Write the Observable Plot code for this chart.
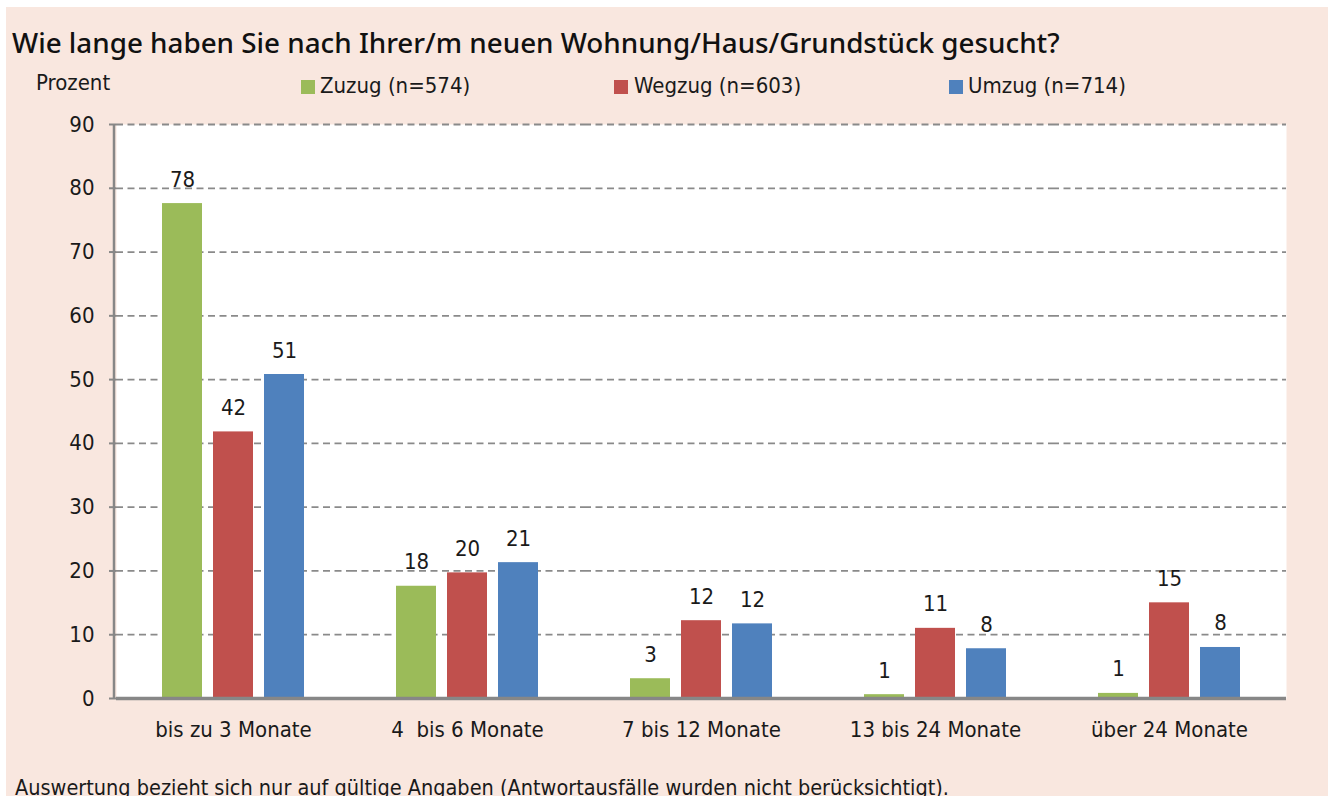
<!DOCTYPE html>
<html>
<head>
<meta charset="utf-8">
<script src="https://cdn.jsdelivr.net/npm/d3@7"></script>
<script src="https://cdn.jsdelivr.net/npm/@observablehq/plot@0.6"></script>
<style>
  html, body { margin: 0; padding: 0; background: #ffffff; width: 1328px; height: 796px; overflow: hidden; }
  #panel { position: absolute; left: 6px; top: 7px; width: 1322px; height: 789px; background: #f9e7df; }
  #chart { position: absolute; left: 0; top: 0; }
  .narrow { font-family: "Liberation Sans Narrow", "DejaVu Sans Condensed", sans-serif; color: #1a1a1a; }
  #title { position: absolute; left: 12px; top: 23px; font-family: "Noto Sans", sans-serif; font-size: 27.8px; font-weight: 500; color: #111; white-space: nowrap; }
  #ylabel { position: absolute; left: 36px; top: 70px; font-size: 22px; }
  .leg { position: absolute; top: 73px; font-size: 22px; white-space: nowrap; }
  .sw { position: absolute; top: 80px; width: 14px; height: 14px; }
  #caption { position: absolute; left: 15px; top: 775px; font-size: 21.5px; white-space: nowrap; }
  svg text { white-space: pre; }
</style>
</head>
<body>
<div id="panel"></div>
<div id="chart"></div>
<div id="title">Wie lange haben Sie nach Ihrer/m neuen Wohnung/Haus/Grundstück gesucht?</div>
<div id="ylabel" class="narrow">Prozent</div>
<div id="legend"></div>
<div id="caption" class="narrow">Auswertung bezieht sich nur auf gültige Angaben (Antwortausfälle wurden nicht berücksichtigt).</div>
<script>
const categories = ["bis zu 3 Monate", "4  bis 6 Monate", "7 bis 12 Monate", "13 bis 24 Monate", "über 24 Monate"];
const seriesNames = ["Zuzug (n=574)", "Wegzug (n=603)", "Umzug (n=714)"];
const seriesColors = ["#9bbb59", "#c0504d", "#4f81bd"];
const zuzug = [77.6, 17.6, 3.1, 0.6, 0.8];
const wegzug = [41.8, 19.7, 12.2, 11.0, 15.0];
const umzug = [50.8, 21.3, 11.7, 7.8, 8.0];
const yTicks = [0, 10, 20, 30, 40, 50, 60, 70, 80, 90];

const seriesValues = [zuzug, wegzug, umzug];
const data = [];
categories.forEach((c, i) => {
  seriesNames.forEach((s, j) => data.push({cat: c, series: s, value: seriesValues[j][i]}));
});

const font = '"Liberation Sans Narrow", "DejaVu Sans Condensed", sans-serif';

const chart = Plot.plot({
  width: 1328,
  height: 796,
  marginLeft: 114,
  marginRight: 40,
  marginTop: 124,
  marginBottom: 98,
  style: {background: "transparent", fontFamily: font, fontSize: "22px", color: "#1a1a1a"},
  fx: {domain: categories, padding: 0, label: null},
  x: {domain: seriesNames, paddingInner: 0.21, paddingOuter: 0.865, axis: null},
  y: {domain: [0, 90], ticks: yTicks, label: null},
  color: {domain: seriesNames, range: seriesColors},
  marks: [
    Plot.frame({fill: "white", stroke: null, facet: "super"}),
    Plot.gridY(yTicks.slice(1), {stroke: "#8a8a8a", strokeOpacity: 1, strokeWidth: 1.8, strokeDasharray: "7,4.5"}),
    Plot.barY(data, {fx: "cat", x: "series", y: "value", fill: "series"}),
    Plot.text(data, {fx: "cat", x: "series", y: "value", text: d => String(Math.round(d.value)), dy: -17, lineAnchor: "bottom", fontSize: 22, fill: "#1a1a1a"}),
    Plot.ruleY([0], {stroke: "#878787", strokeWidth: 3.5}),
    Plot.axisY(yTicks, {anchor: "left", tickSize: 7, tickPadding: 15, stroke: "#878787", strokeWidth: 2, fontSize: 22, label: null}),
    Plot.axisFx({anchor: "bottom", tickSize: 0, tickPadding: 23, fontSize: 22, label: null})
  ]
});
document.getElementById("chart").appendChild(chart);

// y axis domain line drawn from the scale
const ys = chart.scale("y");
const svg = d3.select(chart);
svg.append("line")
  .attr("x1", 114).attr("x2", 114)
  .attr("y1", ys.apply(90)).attr("y2", ys.apply(0))
  .attr("stroke", "#878787").attr("stroke-width", 2.5);

// legend
const legX = [{sw: 301, tx: 320}, {sw: 614, tx: 634}, {sw: 949, tx: 968}];
const legend = document.getElementById("legend");
seriesNames.forEach((s, i) => {
  const sw = document.createElement("div");
  sw.className = "sw";
  sw.style.left = legX[i].sw + "px";
  sw.style.background = seriesColors[i];
  legend.appendChild(sw);
  const t = document.createElement("div");
  t.className = "leg narrow";
  t.style.left = legX[i].tx + "px";
  t.textContent = s;
  legend.appendChild(t);
});
</script>
</body>
</html>
